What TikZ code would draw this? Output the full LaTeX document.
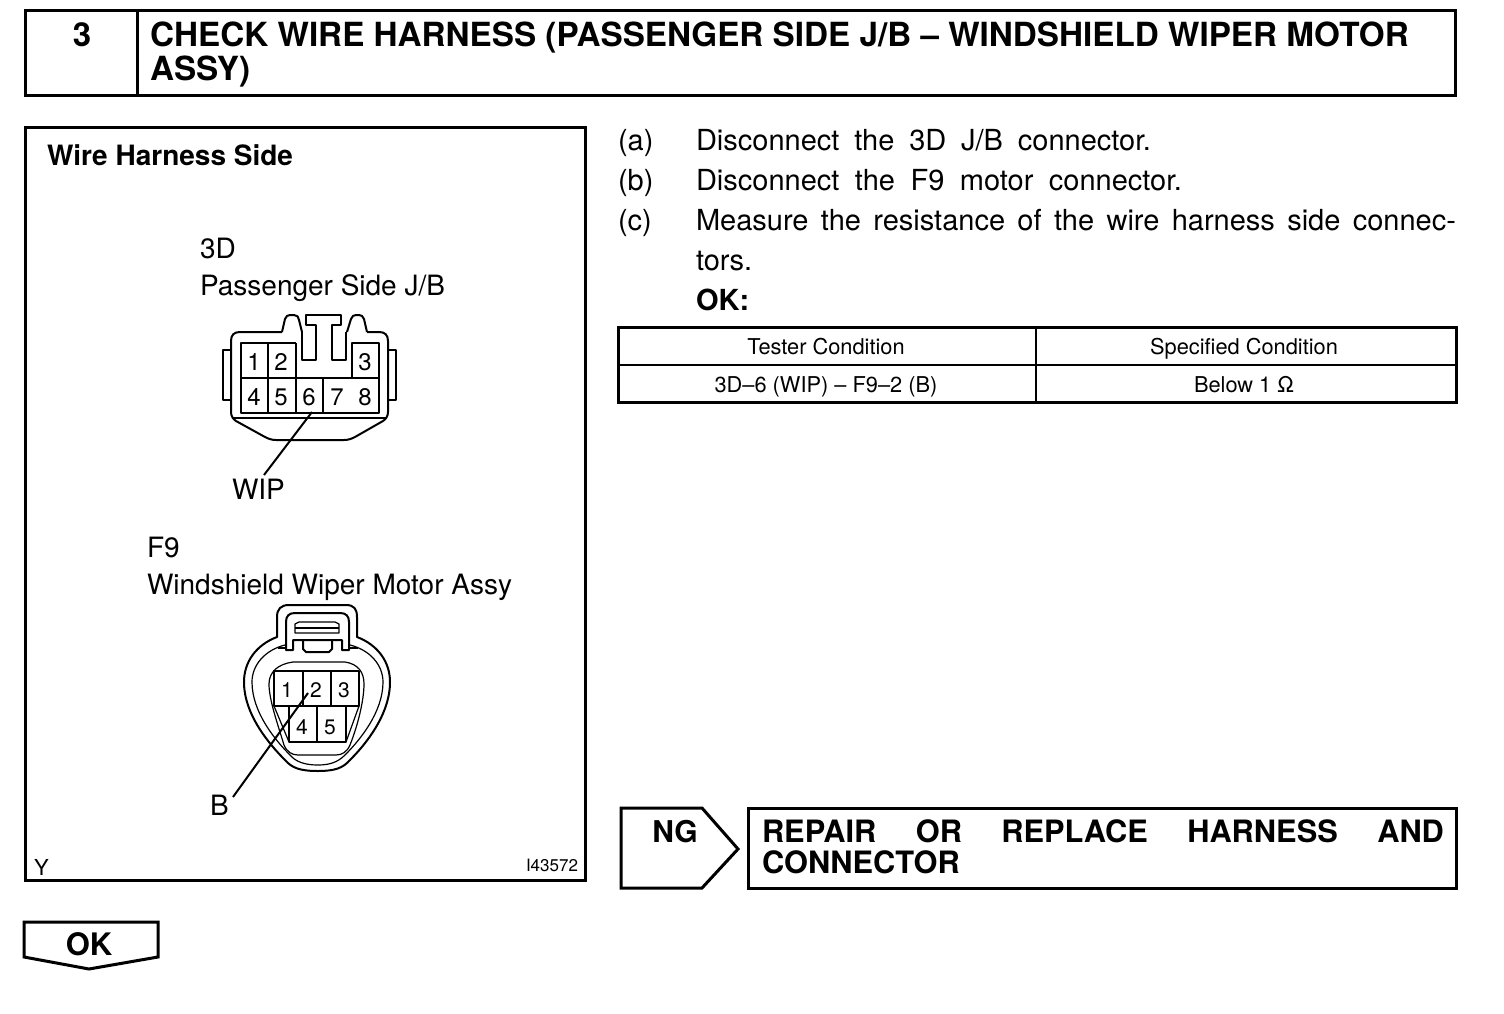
\documentclass[tikz,border=0pt]{standalone}
\usepackage{fontspec}
\setmainfont{TeX Gyre Heros}
\usetikzlibrary{calc}
\newcommand{\fs}[1]{\fontsize{#1}{#1}\selectfont}
\tikzset{
 x=1pt,y=-1pt,
 heavy/.style={line width=3pt,line join=miter},
 med/.style={line width=2pt,line join=round},
 thin line/.style={line width=1.2pt,line join=round},
 txt/.style={anchor=base west,inner sep=0pt,outer sep=0pt},
 ctxt/.style={anchor=base,inner sep=0pt,outer sep=0pt},
 body/.style={txt,font=\fs{29}},
 title/.style={txt,font=\fs{33.25}\bfseries},
 label/.style={txt,font=\fs{28}},
 pin/.style={ctxt,font=\fs{24}},
 cell/.style={ctxt,font=\fs{21.8}},
}
\begin{document}
\begin{tikzpicture}
\useasboundingbox (0,0) rectangle (1504,1014);
\fill[white] (0,0) rectangle (1504,1014);
% header
\draw[heavy] (25,11) rectangle (1455,96);
\draw[heavy] (137,11) -- (137,96);
\node[ctxt,font=\fs{33}\bfseries] (num) at (82,47) {3};
\node[title] (t1) at (150,47) {CHECK WIRE HARNESS (PASSENGER SIDE J/B – WINDSHIELD WIPER MOTOR};
\node[title] (t2) at (150,81) {ASSY)};
% left panel
\draw[heavy] (25,128) rectangle (585,880);
\node[txt,font=\fs{28}\bfseries] (wh) at (47,165) {Wire Harness Side};
\node[label] (l3d) at (200,258) {3D};
\node[label] (lps) at (200,295) {Passenger Side J/B};
\node[label] (lwip) at (232,499) {WIP};
\node[label] (lf9) at (147,557) {F9};
\node[label] (lwm) at (147,594) {Windshield Wiper Motor Assy};
\node[label] (lb) at (210,815) {B};
\node[txt,font=\fs{22}] (ly) at (34,875) {Y};
\node[txt,font=\fs{17},anchor=base east] (lnum) at (578,871) {I43572};
% connector 3D
\draw[med] (282,332) -- (240,332) .. controls (234,332) and (231,335) .. (231,341) -- (231,412) .. controls (231,416) and (233,419) .. (236,421) -- (265,437) .. controls (269,439) and (272,440) .. (276,440) -- (344,440) .. controls (348,440) and (351,439) .. (355,437) -- (383,421) .. controls (386,419) and (388,416) .. (388,412) -- (388,341) .. controls (388,335) and (385,332) .. (379,332) -- (367,332);
\draw[med] (230,350) -- (223,350) -- (223,400) -- (230,400);
\draw[med] (389,350) -- (396,350) -- (396,400) -- (389,400);
\draw[med] (282,332) -- (285,319) .. controls (286,316) and (288,315) .. (290,315) -- (294,315) .. controls (297,315) and (299,317) .. (299,320) -- (302,332);
\draw[med] (347,332) -- (351,319) .. controls (352,316) and (354,315) .. (356,315) -- (359,315) .. controls (361,315) and (363,316) .. (364,319) -- (367,332);
\draw[med] (296,343) -- (241,343) -- (241,413) -- (379,413) -- (379,343) -- (352,343) -- (352,378);
\draw[med] (296,343) -- (296,413);
\draw[med] (302,332) -- (302,360) -- (316,360) -- (316,325) -- (306,325) -- (306,315) -- (341,315) -- (341,325) -- (332,325) -- (332,360) -- (346,360) -- (346,332);
\draw[thin line] (241,378) -- (379,378);
\draw[thin line] (268,343) -- (268,413) (323,378) -- (323,413);
\draw[thin line] (232,418) -- (387,418);
\foreach \n/\x/\y in {1/254/370,2/281/370,3/365/370,4/254/405,5/281/405,6/309/405,7/337/405,8/365/405}
  \node[pin] (p\n) at (\x,\y) {\n};
\coordinate (wa) at (312,412);
\coordinate (wb) at (264,475);
\draw[med] (wa) -- (wb);
% connector F9
\draw[med] (277,637) -- (277,617) .. controls (277,609) and (281,605) .. (289,605) -- (346,605) .. controls (354,605) and (357,609) .. (357,617) -- (357,637)
  .. controls (378,645) and (390,662) .. (390,682) .. controls (390,715) and (365,745) .. (350,760) .. controls (343,768) and (335,771) .. (318,771)
  .. controls (300,771) and (292,768) .. (285,760) .. controls (270,745) and (244,715) .. (244,682) .. controls (244,662) and (256,645) .. (277,637) -- cycle;
\draw[thin line] (285,645) .. controls (265,650) and (252,665) .. (252,682) .. controls (252,712) and (275,740) .. (290,755) .. controls (296,762) and (305,765) .. (318,765)
  .. controls (330,765) and (338,762) .. (345,755) .. controls (360,740) and (383,712) .. (383,682) .. controls (383,665) and (370,650) .. (350,645);
\draw[med] (286,650) -- (286,622) .. controls (286,616) and (289,613) .. (295,613) -- (340,613) .. controls (346,613) and (349,616) .. (349,622) -- (349,650) -- (342,650) -- (342,640) -- (293,640) -- (293,650) -- cycle;
\draw[thin line] (295,633) -- (295,624) -- (299,622) -- (335,622) -- (339,624) -- (339,633) -- cycle;
\draw[thin line] (295,628) -- (339,628);
\draw[med] (303,640) -- (303,649) -- (306,652) -- (329,652) -- (332,649) -- (332,640);
\draw[thin line] (278,648) -- (285,648) (350,648) -- (358,648);
% well
\draw[thin line] (293,662) -- (345,662) .. controls (358,664) and (364,672) .. (364,684) .. controls (364,700) and (358,725) .. (350,745) .. controls (347,752) and (342,755) .. (336,755) -- (298,755) .. controls (292,755) and (287,752) .. (284,745) .. controls (278,725) and (269,700) .. (269,684) .. controls (269,672) and (278,664) .. (293,662) -- cycle;
\draw[thin line] (274,671) -- (359,671) -- (359,706) -- (274,706) -- cycle;
\draw[thin line] (303,671) -- (303,706);
\draw[med] (331,671) -- (331,706);
\draw[thin line] (289,706) -- (289,742) -- (346,742) -- (346,706);
\draw[thin line] (317,706) -- (317,742);
\draw[thin line] (274,706) -- (289,742) (359,706) -- (346,742);
\foreach \n/\x/\y in {1/287/697,2/316/697,3/344/697,4/302/734,5/330/734}
  \node[ctxt,font=\fs{21}] (q\n) at (\x,\y) {\n};
\coordinate (ba) at (308,693);
\coordinate (bb) at (233,797);
\draw[med] (ba) -- (bb);
% text
\node[body] (a1) at (618,150) {(a)};
\node[body] (a2) at (696,150) {\hbox to 455pt{Disconnect\hfill the\hfill 3D\hfill J/B\hfill connector.}};
\node[body] (b1) at (618,190) {(b)};
\node[body] (b2) at (696,190) {\hbox to 486pt{Disconnect\hfill the\hfill F9\hfill motor\hfill connector.}};
\node[body] (c1) at (618,230) {(c)};
\node[body] (c2) at (696,230) {\hbox to 760pt{Measure\hfill the\hfill resistance\hfill of\hfill the\hfill wire\hfill harness\hfill side\hfill connec-}};
\node[body] (c3) at (696,270) {tors.};
\node[txt,font=\fs{29}\bfseries] (okh) at (696,310) {OK:};
% table
\draw[heavy] (618,327) rectangle (1456,402);
\draw[med] (618,365) -- (1456,365);
\draw[med] (1036,327) -- (1036,402);
\node[cell] (h1) at (826,354) {Tester Condition};
\node[cell] (h2) at (1244,354) {Specified Condition};
\node[cell] (d1) at (826,392) {3D–6 (WIP) – F9–2 (B)};
\node[cell] (d2) at (1244,392) {Below 1 Ω};
% NG
\draw[heavy] (621,808) -- (702,808) -- (738,849) -- (702,888) -- (621,888) -- cycle;
\node[ctxt,font=\fs{30}\bfseries] (ng) at (675,842) {NG};
\draw[heavy] (748,808) rectangle (1456,888);
\node[txt,font=\fs{30.8}\bfseries] (r1) at (762,842) {\hbox to 682pt{REPAIR\hfill OR\hfill REPLACE\hfill HARNESS\hfill AND}};
\node[txt,font=\fs{30.8}\bfseries] (r2) at (762,873) {CONNECTOR};
% OK
\draw[heavy] (24,922) -- (158,922) -- (158,957) -- (89,969) -- (24,957) -- cycle;
\node[ctxt,font=\fs{31}\bfseries] (ok) at (89,955) {OK};
\end{tikzpicture}
\end{document}
